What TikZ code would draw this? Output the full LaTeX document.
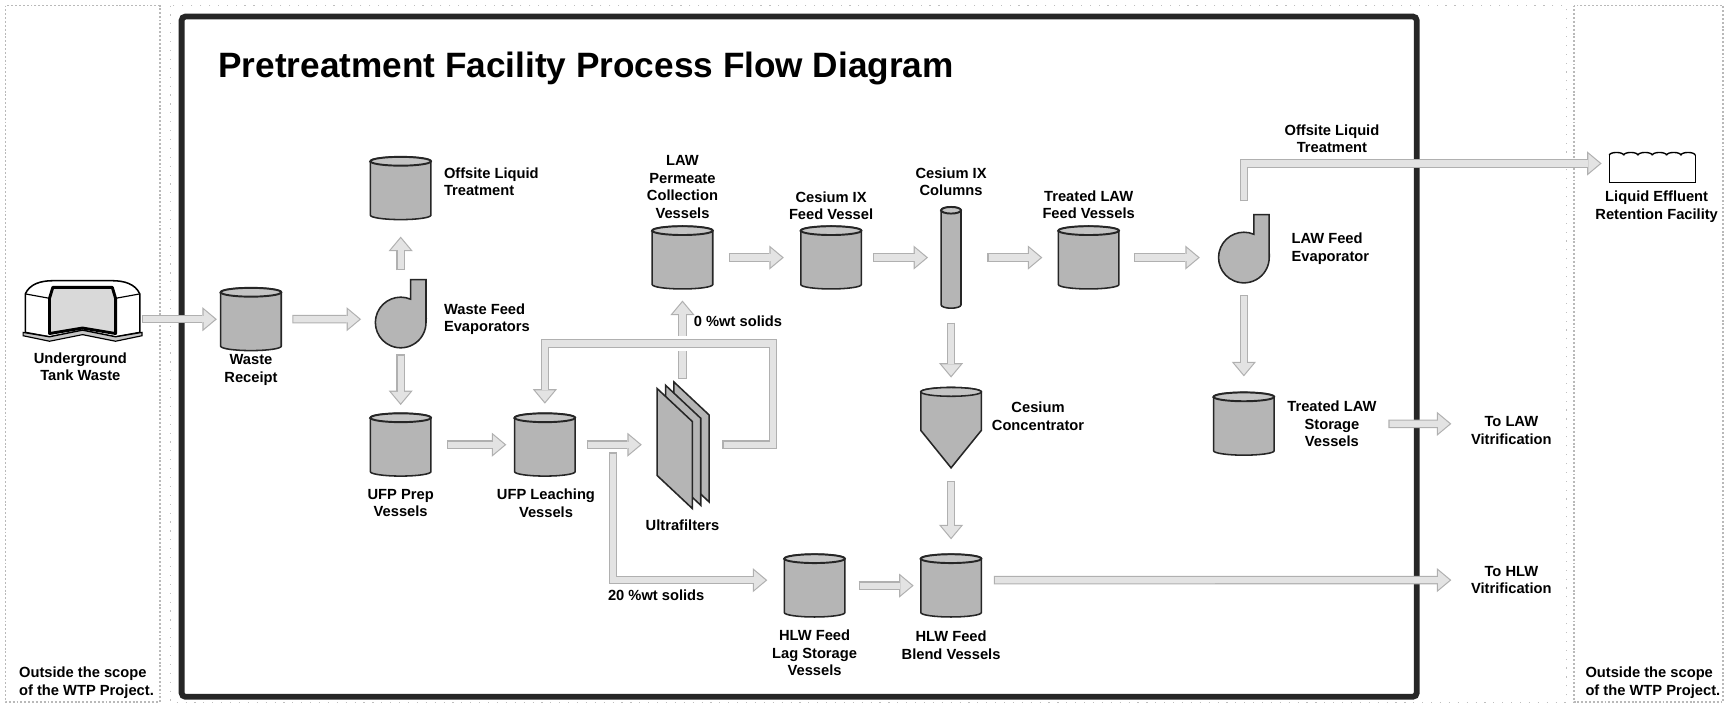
\documentclass[tikz,border=0pt]{standalone}
\usepackage{fontspec}
\setmainfont{Liberation Sans}
\usetikzlibrary{arrows.meta}
\begin{document}
\begin{tikzpicture}[x=0.02cm, y=-0.02cm,
    lbl/.style={font=\fontsize{7.6}{9.1}\selectfont\bfseries, align=center, inner sep=0pt},
    lbll/.style={lbl, align=left, anchor=west},
    hold/.style={inner sep=0pt, outer sep=0pt},
    vessel/.style={hold, minimum width=1.1cm, minimum height=1.14cm},
    part/.style={draw=black!85, line width=0.8pt, fill=gray!58},
    pipe/.style={line width=4.4pt, draw=gray!62, line join=miter,
      -{Triangle[length=7.5pt,width=12.5pt,line width=0pt]},
      postaction={draw=gray!22, line width=3.2pt, shorten <=0.6pt, shorten >=0.95pt,
        -{Triangle[length=5.9pt,width=9.9pt,line width=0pt]}}},
    loop/.style={pipe, preaction={draw=white, line width=8pt, -}},
    panel/.style={draw=gray!55, line width=1pt, densely dotted},
  ]
  \fill[white] (0,0) rectangle (1568,641.4);
  \useasboundingbox (0,0) rectangle (1568,641.4);

  \draw[panel] (5,5) rectangle (145,638);
  \draw[panel] (1430,5) rectangle (1565,638);
  \draw[draw=gray!50, line width=0.6pt, loosely dotted] (155,5) rectangle (1423,638);
  \draw[line width=3pt, draw=black!85, rounded corners=2pt] (165,15) rectangle (1287,633);

  \node[anchor=base west, inner sep=0pt, font=\fontsize{18.2}{22}\selectfont\bfseries] (TTL) at (198,70)
    {Pretreatment Facility Process Flow Diagram};

  \node[hold, minimum width=2.16cm, minimum height=0.8cm] (TW) at (75,290) {};
  \filldraw[fill=white, line width=0.8pt] (23,302) -- (23,267) .. controls (27,258) and (37,255) .. (48,255)
    -- (102,255) .. controls (113,255) and (123,258) .. (127,267) -- (127,302) -- (105,306) -- (75,300)
    -- (45,306) -- cycle;
  \draw[line width=0.6pt] (23,267) -- (45,271) (105,271) -- (127,267);
  \filldraw[fill=gray!30, line width=1.5pt, line join=round] (45,271) -- (48,261) -- (102,261) -- (105,271)
    -- (105,303) -- (75,298) -- (45,303) -- cycle;
  \filldraw[fill=gray!45, line width=0.6pt] (21,302) -- (45,306) -- (75,300) -- (105,306) -- (129,302)
    -- (129,305) -- (105,310) -- (75,304) -- (45,310) -- (21,305) -- cycle;

  \node[vessel] (WR) at (228,290) {};
  \node[hold, circle, minimum size=0.92cm] (EV1) at (364,293) {};
  \filldraw[part] (387,293) -- (387,254) -- (373,254) -- (373,271.8)
    arc[start angle=-67, end angle=-360, radius=23] -- cycle;
  \node[vessel] (OLT) at (364,171) {};
  \node[vessel] (UFPP) at (364,404) {};
  \node[vessel] (UFPL) at (495,404) {};
  \node[hold, minimum width=0.96cm, minimum height=2.32cm] (UF) at (620,404) {};
  \foreach \d in {2,1,0}
    \filldraw[part] (597+7.6*\d,353-3*\d) -- ++(32,30) -- ++(0,79) -- ++(-32,-30) -- cycle;
  \node[vessel] (LAWP) at (620,234) {};
  \node[vessel] (CXF) at (755,234) {};
  \node[hold, minimum width=0.36cm, minimum height=1.84cm] (CXC) at (864,234) {};
  \node[vessel] (TLF) at (989,234) {};
  \node[hold, circle, minimum size=0.92cm] (EV2) at (1130,234) {};
  \filldraw[part] (1153,234) -- (1153,195) -- (1139,195) -- (1139,212.8)
    arc[start angle=-67, end angle=-360, radius=23] -- cycle;
  \node[hold, minimum width=1.56cm, minimum height=0.58cm] (LER) at (1501,152) {};
  \draw[line width=0.7pt, fill=white] (1462,141) -- (1462,166) -- (1540,166) -- (1540,141);
  \foreach \i in {0,...,5}
    \draw[line width=0.7pt] (1462+13*\i,141) arc[start angle=180, end angle=360, x radius=6.5, y radius=2.5];
  \node[vessel] (TLS) at (1130,385) {};
  \node[hold, minimum width=1.1cm, minimum height=1.44cm] (CONC) at (864,389) {};
  \filldraw[part] (836.5,356) -- (836.5,391) -- (864,425) -- (891.5,391) -- (891.5,356)
    arc[start angle=0, end angle=-180, x radius=27.5, y radius=4] -- cycle;
  \draw[part, fill=gray!46] (864,356) ellipse[x radius=27.5, y radius=4];
  \node[vessel] (HLL) at (740,532) {};
  \node[vessel] (HLB) at (864,532) {};

  \foreach \n/\r/\s in {WR/27.5/4, OLT/27.5/4, UFPP/27.5/4, UFPL/27.5/4, LAWP/27.5/4, CXF/27.5/4,
      TLF/27.5/4, TLS/27.5/4, HLL/27.5/4, HLB/27.5/4, CXC/9/3} {
    \filldraw[part] ([yshift=-\s*0.569pt]\n.north west) -- ([yshift=\s*0.569pt]\n.south west)
      arc[start angle=180, end angle=0, x radius=\r, y radius=\s] -- ([yshift=-\s*0.569pt]\n.north east)
      arc[start angle=0, end angle=-180, x radius=\r, y radius=\s] -- cycle;
    \draw[part, fill=gray!46, line width=1pt] ([yshift=-\s*0.569pt]\n.north) ellipse[x radius=\r, y radius=\s];
  }

  \node[lbl] (TWl) at (73,333) {Underground\\Tank Waste};
  \node[lbl] (WRl) at (228,336) {Waste\\Receipt};
  \node[lbll] (EV1l) at (403,290) {Waste Feed\\Evaporators};
  \node[lbll] (OLTl) at (403,165) {Offsite Liquid\\Treatment};
  \node[lbl] (UFPPl) at (364,457) {UFP Prep\\Vessels};
  \node[lbl] (UFPLl) at (496,457) {UFP Leaching\\Vessels};
  \node[lbl] (UFl) at (620,477) {Ultrafilters};
  \node[lbll] (S0) at (630,292) {0 \%wt solids};
  \node[lbll] (S20) at (552,541) {20 \%wt solids};
  \node[lbl] (LAWPl) at (620,170) {LAW\\Permeate\\Collection\\Vessels};
  \node[lbl] (CXFl) at (755,187) {Cesium IX\\Feed Vessel};
  \node[lbl] (CXCl) at (864,165) {Cesium IX\\Columns};
  \node[lbl] (TLFl) at (989,186) {Treated LAW\\Feed Vessels};
  \node[lbl] (OLT2l) at (1210,126) {Offsite Liquid\\Treatment};
  \node[lbll] (EV2l) at (1173,226) {LAW Feed\\Evaporator};
  \node[lbl] (LERl) at (1505,188) {Liquid Effluent\\Retention Facility};
  \node[lbl] (TLSl) at (1210,385) {Treated LAW\\Storage\\Vessels};
  \node[lbl] (TL) at (1373,391) {To LAW\\Vitrification};
  \node[lbl] (CONCl) at (943,378) {Cesium\\Concentrator};
  \node[lbl] (TH) at (1373,527) {To HLW\\Vitrification};
  \node[lbl] (HLBl) at (864,586) {HLW Feed\\Blend Vessels};
  \node[lbl] (HLLl) at (740,593) {HLW Feed\\Lag Storage\\Vessels};
  \node[lbll] (OUT1) at (17,620) {Outside the scope\\of the WTP Project.};
  \node[lbll] (OUT2) at (1440,620) {Outside the scope\\of the WTP Project.};

  \draw[pipe] (TW.east) -- ([xshift=-2pt]WR.west);
  \draw[pipe] ([xshift=5.7pt]WR.east) -- ([xshift=-7.4pt,yshift=1.7pt]EV1.west);
  \draw[pipe] ([yshift=14pt]EV1.north) -- ([yshift=-8.8pt]OLT.south);
  \draw[pipe] ([yshift=-3.4pt]EV1.south) -- ([yshift=4.3pt]UFPP.north);
  \draw[pipe] ([xshift=8.3pt]UFPP.east) -- ([xshift=-4.3pt]UFPL.west);
  \draw[pipe] ([xshift=6pt]UFPL.east) -- ([xshift=-7.4pt]UF.west);
  \draw[pipe] ([yshift=1pt]UF.north) -- ([yshift=-6pt]LAWP.south);
  \draw[loop] ([xshift=7pt]UF.east) -- ++(46,0) -- ++(0,-92) -| ([yshift=5pt]UFPL.north);
  \draw[pipe] ([xshift=19.6pt,yshift=-4pt]UFPL.east) |- ([xshift=-8.8pt,yshift=2.8pt]HLL.west);
  \draw[pipe] ([xshift=8.3pt]LAWP.east) -- ([xshift=-8.8pt]CXF.west);
  \draw[pipe] ([xshift=6pt]CXF.east) -- ([xshift=-6.8pt]CXC.west);
  \draw[pipe] ([xshift=13.7pt]CXC.east) -- ([xshift=-8.3pt]TLF.west);
  \draw[pipe] ([xshift=7.7pt]TLF.east) -- ([xshift=-9.7pt]EV2.west);
  \draw[pipe] ([yshift=16pt]EV2.north) |- ([xshift=-4pt,yshift=2pt]LER.west);
  \draw[pipe] ([yshift=-6.3pt]EV2.south) -- ([yshift=8.3pt]TLS.north);
  \draw[pipe] ([xshift=6pt]TLSl.east) -- ([xshift=-10pt,yshift=3.4pt]TL.west);
  \draw[pipe] ([yshift=-7.4pt]CXC.south) -- ([yshift=5.7pt]CONC.north);
  \draw[pipe] ([yshift=-6.8pt]CONC.south) -- ([yshift=7.7pt]HLB.north);
  \draw[pipe] ([xshift=7.1pt]HLL.east) -- ([xshift=-3.7pt]HLB.west);
  \draw[pipe] ([xshift=6.5pt,yshift=2.8pt]HLB.east) -- ([xshift=-10pt]TH.west);
\end{tikzpicture}
\end{document}
